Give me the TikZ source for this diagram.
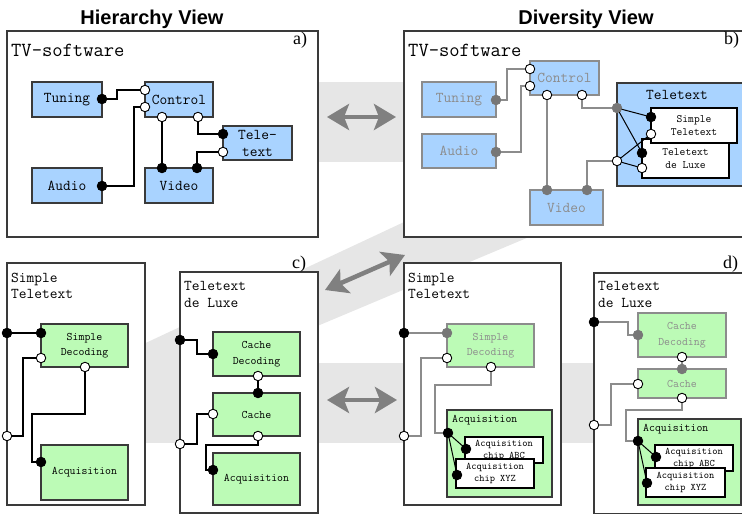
\documentclass[tikz,border=0pt]{standalone}
\usepackage{fontspec}
\newfontfamily\titlefont{Liberation Sans}
\newfontfamily\tagfont{Liberation Serif}
\usetikzlibrary{arrows.meta}

\definecolor{boxblue}{HTML}{A9D3FF}
\definecolor{boxgreen}{HTML}{BCFBB6}
\definecolor{band}{HTML}{E6E6E6}
\definecolor{arrowgray}{HTML}{808080}
\definecolor{dimtext}{HTML}{8C8C8C}
\definecolor{dimline}{HTML}{8C8C8C}
\definecolor{portgray}{HTML}{777777}
\definecolor{edge}{HTML}{3A3A3A}

\newcommand\ttXL{\ttfamily\fontsize{20}{22}\selectfont}
\newcommand\ttL{\ttfamily\fontsize{15}{17}\selectfont}
\newcommand\ttM{\ttfamily\fontsize{11.5}{15.5}\selectfont}
\newcommand\ttS{\ttfamily\fontsize{11.2}{13}\selectfont}
\newcommand\ttXS{\ttfamily\fontsize{10}{12}\selectfont}

\tikzset{
  sz/.style 2 args={minimum width=#1pt, minimum height=#2pt},
  frame/.style={draw=edge, line width=1.3pt, fill=white, anchor=north west,
    inner sep=0pt, outer sep=0pt},
  box/.style={draw=edge, line width=1.1pt, anchor=north west, inner sep=0pt,
    outer sep=0pt, align=center},
  bluebox/.style={box, fill=boxblue, font=\ttL},
  bluedim/.style={bluebox, draw=dimline, text=dimtext},
  greenbox/.style={box, fill=boxgreen, font=\ttM},
  greendim/.style={greenbox, draw=dimline, text=dimtext},
  whitebox/.style={box, fill=white, draw=black},
  holder/.style={box, line width=1.4pt},
  label/.style={anchor=base west, inner sep=0pt, font=\ttL},
  tag/.style={anchor=base west, inner sep=0pt, font=\tagfont\fontsize{18}{18}\selectfont},
  heading/.style={anchor=base, inner sep=0pt,
    font=\titlefont\bfseries\fontsize{20}{20}\selectfont},
  port/.style={circle, inner sep=0pt, outer sep=0pt, minimum size=9.5pt,
    line width=0.9pt},
  bport/.style={port, fill=black, draw=black},
  wport/.style={port, fill=white, draw=black},
  gport/.style={port, fill=portgray, draw=portgray},
  wire/.style={draw=black, line width=1.3pt},
  gwire/.style={draw=dimline, line width=1.3pt},
  bigarrow/.style={draw=arrowgray, line width=4.5pt,
    {Stealth[length=22pt,width=26pt,inset=5pt]}-{Stealth[length=22pt,width=26pt,inset=5pt]}},
}

\begin{document}
\begin{tikzpicture}[x=1pt,y=-1pt]
\clip (0,0) rectangle (742,514);

% shaded bands linking the views
\fill[band] (300,82) rectangle (420,162);
\fill[band] (120,355) -- (560,149) -- (560,224) -- (120,409) -- cycle;
\fill[band] (120,363) rectangle (700,443);

% headings
\node[heading] (hh) at (152,24) {Hierarchy View};
\node[heading] (hd) at (586,24) {Diversity View};

% outer frames
\node[frame, sz={311}{206}] (fa) at (7,31) {};
\node[frame, sz={341}{206}] (fb) at (404,31) {};
\node[frame, sz={138}{242}] (fc1) at (7,263) {};
\node[frame, sz={138}{241}] (fc2) at (180,272) {};
\node[frame, sz={157}{242}] (fd1) at (404,263) {};
\node[frame, sz={156}{241}] (fd2) at (594,273) {};

% frame titles and tags
\node[label, font=\ttXL] (ta) at (11,56) {TV-software};
\node[label, font=\ttXL] (tb) at (408,56) {TV-software};
\node[tag] (ga) at (293,45) {a)};
\node[tag] (gb) at (724,45) {b)};
\node[tag] (gc) at (292,268) {c)};
\node[tag] (gd) at (723,268) {d)};
\node[label] (tc1a) at (11,282) {Simple};
\node[label] (tc1b) at (11,298) {Teletext};
\node[label] (tc2a) at (184,290) {Teletext};
\node[label] (tc2b) at (184,307) {de Luxe};
\node[label] (td1a) at (408,282) {Simple};
\node[label] (td1b) at (408,298) {Teletext};
\node[label] (td2a) at (598,290) {Teletext};
\node[label] (td2b) at (598,307) {de Luxe};

% ---- a) hierarchy of the TV software
\node[bluebox, sz={70}{35}] (tun) at (32,82) {Tuning};
\node[bluebox, sz={68}{35}] (ctl) at (145,82) {Control};
\node[bluebox, sz={69}{34}] (tlt) at (223,126) {Tele-\\text};
\node[bluebox, sz={70}{35}] (aud) at (32,168) {Audio};
\node[bluebox, sz={68}{35}] (vid) at (145,168) {Video};

\node[bport] (pa1) at (102,99) {};
\node[wport] (pa2) at (145,90) {};
\node[wport] (pa3) at (145,107) {};
\node[bport] (pa4) at (102,186) {};
\node[wport] (pa5) at (162,117) {};
\node[wport] (pa6) at (198,117) {};
\node[bport] (pa7) at (162,168) {};
\node[bport] (pa8) at (197,168) {};
\node[bport] (pa9) at (223,134) {};
\node[wport] (pa10) at (223,152) {};

\draw[wire] (pa1) -- ++(15,0) |- (pa2);
\draw[wire] (pa4) -- ++(32,0) |- (pa3);
\draw[wire] (pa5) -- (pa7);
\draw[wire] (pa6) |- (pa9);
\draw[wire] (pa10) -| (pa8);

% ---- b) diversity of the TV software
\node[bluedim, sz={74}{35}] (tunb) at (422,82) {Tuning};
\node[bluedim, sz={74}{34}] (audb) at (422,134) {Audio};
\node[bluedim, sz={69}{34}] (ctlb) at (530,61) {Control};
\node[bluedim, sz={73}{35}] (vidb) at (530,190) {Video};
\node[box, fill=boxblue, sz={130}{103}] (tltb) at (617,83) {};
\node[inner sep=0pt, font=\ttL] (tltbl) at (677,95) {Teletext};
\node[whitebox, font=\ttS, sz={87}{39}] (dlxb) at (642,139) {Teletext\\de Luxe};
\node[whitebox, font=\ttS, sz={86}{35}] (smpb) at (651,108) {Simple\\Teletext};

\node[gport] (pb1) at (496,100) {};
\node[wport] (pb2) at (530,69) {};
\node[wport] (pb3) at (530,86) {};
\node[gport] (pb4) at (496,152) {};
\node[wport] (pb5) at (547,95) {};
\node[wport] (pb6) at (582,95) {};
\node[gport] (pb7) at (547,190) {};
\node[gport] (pb8) at (587,190) {};
\node[gport] (pb9) at (617,108) {};
\node[wport] (pb10) at (617,161) {};
\node[bport] (pb11) at (651,117) {};
\node[wport] (pb12) at (651,134) {};
\node[bport] (pb13) at (642,153) {};
\node[wport] (pb14) at (642,168) {};

\draw[gwire] (pb1) -- ++(11,0) |- (pb2);
\draw[gwire] (pb4) -- ++(25,0) |- (pb3);
\draw[gwire] (pb5) -- (pb7);
\draw[gwire] (pb6) |- (pb9);
\draw[gwire] (pb10) -| (pb8);
\draw[wire, line width=1pt] (pb9) -- (pb11);
\draw[wire, line width=1pt] (pb9) -- (pb13);
\draw[wire, line width=1pt] (pb10) -- (pb12);
\draw[wire, line width=1pt] (pb10) -- (pb14);

% ---- c) hierarchy of the two teletext variants
\node[greenbox, sz={87}{43}] (sdc) at (41,324) {Simple\\Decoding};
\node[greenbox, sz={87}{55}] (aqc) at (41,445) {Acquisition};

\node[bport] (pc1) at (7,333) {};
\node[bport] (pc2) at (41,333) {};
\node[wport] (pc3) at (7,436) {};
\node[wport] (pc4) at (41,358) {};
\node[wport] (pc5) at (85,367) {};
\node[bport] (pc6) at (41,462) {};

\draw[wire] (pc1) -- (pc2);
\draw[wire] (pc3) -- ++(16,0) |- (pc4);
\draw[wire] (pc5) -- ++(0,47) -- ++(-53,0) |- (pc6);

\node[greenbox, sz={87}{44}] (cdc) at (213,332) {Cache\\Decoding};
\node[greenbox, sz={87}{43}] (cac) at (213,393) {Cache};
\node[greenbox, sz={87}{52}] (aqc2) at (213,453) {Acquisition};

\node[bport] (pc7) at (180,340) {};
\node[bport] (pc8) at (213,354) {};
\node[wport] (pc9) at (258,376) {};
\node[bport] (pc10) at (258,393) {};
\node[wport] (pc11) at (180,444) {};
\node[wport] (pc12) at (213,414) {};
\node[wport] (pc13) at (258,436) {};
\node[bport] (pc14) at (213,470) {};

\draw[wire] (pc7) -- ++(17,0) |- (pc8);
\draw[wire] (pc9) -- (pc10);
\draw[wire] (pc11) -- ++(17,0) |- (pc12);
\draw[wire] (pc13) -- ++(0,9) -- ++(-52,0) |- (pc14);

% ---- d) diversity of the two teletext variants
\node[greendim, sz={87}{43}] (sdd) at (447,324) {Simple\\Decoding};
\node[holder, fill=boxgreen, sz={105}{87}] (aqd) at (447,410) {};
\node[label, font=\ttM] (aqdl) at (452,422) {Acquisition};
\node[whitebox, font=\ttXS, sz={78}{26}] (abcd) at (465,437) {Acquisition\\chip ABC};
\node[whitebox, font=\ttXS, sz={78}{29}] (xyzd) at (456,459) {Acquisition\\chip XYZ};

\node[bport] (pd1) at (404,333) {};
\node[gport] (pd2) at (447,333) {};
\node[wport] (pd3) at (404,436) {};
\node[wport] (pd4) at (447,358) {};
\node[wport] (pd5) at (491,367) {};
\node[bport] (pd6) at (448,433) {};
\node[bport] (pd7) at (466,449) {};
\node[bport] (pd8) at (457,475) {};

\draw[gwire] (pd1) -- (pd2);
\draw[gwire] (pd3) -- ++(17,0) |- (pd4);
\draw[gwire] (pd5) -- ++(0,18) -- ++(-56,0) |- (pd6);
\draw[wire, line width=1pt] (pd6) -- (pd7);
\draw[wire, line width=1pt] (pd6) -- (pd8);

\node[greendim, sz={88}{44}] (cdd) at (638,313) {Cache\\Decoding};
\node[greendim, sz={88}{29}] (cad) at (638,369) {Cache};
\node[holder, fill=boxgreen, sz={103}{86}] (aqd2) at (638,419) {};
\node[label, font=\ttM] (aqd2l) at (643,431) {Acquisition};
\node[whitebox, font=\ttXS, sz={78}{26}] (abcd2) at (655,445) {Acquisition\\chip ABC};
\node[whitebox, font=\ttXS, sz={79}{29}] (xyzd2) at (646,468) {Acquisition\\chip XYZ};

\node[bport] (pe1) at (594,322) {};
\node[gport] (pe2) at (638,335) {};
\node[wport] (pe3) at (682,357) {};
\node[gport] (pe4) at (682,369) {};
\node[wport] (pe5) at (594,425) {};
\node[wport] (pe6) at (638,384) {};
\node[wport] (pe7) at (682,398) {};
\node[bport] (pe8) at (638,441) {};
\node[bport] (pe9) at (656,457) {};
\node[bport] (pe10) at (647,483) {};

\draw[gwire] (pe1) -- ++(34,0) |- (pe2);
\draw[gwire] (pe3) -- (pe4);
\draw[gwire] (pe5) -- ++(17,0) |- (pe6);
\draw[gwire] (pe7) -- ++(0,12) -- ++(-56,0) |- (pe8);
\draw[wire, line width=1pt] (pe8) -- (pe9);
\draw[wire, line width=1pt] (pe8) -- (pe10);

% ---- correspondence arrows between the views
\coordinate (ar1l) at (327,117);
\coordinate (ar1r) at (396,117);
\coordinate (ar2l) at (325,290);
\coordinate (ar2r) at (405,255);
\coordinate (ar3l) at (327,400);
\coordinate (ar3r) at (397,400);
\draw[bigarrow] (ar1l) -- (ar1r);
\draw[bigarrow] (ar2l) -- (ar2r);
\draw[bigarrow] (ar3l) -- (ar3r);
\end{tikzpicture}
\end{document}
